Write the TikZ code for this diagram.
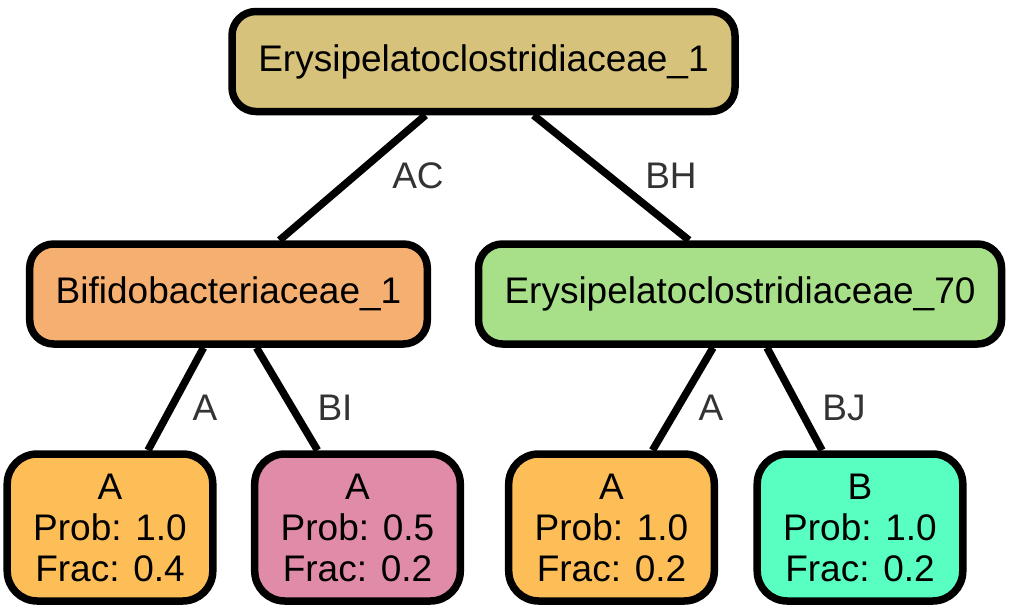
\documentclass[tikz,border=0pt]{standalone}
\usepackage{fontspec}
\setmainfont{Liberation Sans}
\definecolor{rootfill}{HTML}{D6C27A}
\definecolor{bifill}{HTML}{F5AF70}
\definecolor{eryfill}{HTML}{A8E08A}
\definecolor{afill}{HTML}{FEBE57}
\definecolor{pinkfill}{HTML}{E08BA8}
\definecolor{bfill}{HTML}{58FFC0}
\begin{document}
\begin{tikzpicture}[x=1pt,y=-1pt,
  box/.style={draw=black,line width=7.5pt,rounded corners=24pt,inner xsep=26pt,
    minimum height=100pt,font=\fontsize{37}{41}\selectfont},
  leaf/.style={box,rounded corners=30pt,minimum width=197pt,minimum height=147pt,align=center},
  edge/.style={line width=7.5pt},
  lbl/.style={text=black!80,font=\fontsize{37}{41}\selectfont}]
\useasboundingbox (0,0) rectangle (1014,613);
% family nodes
\node[box,fill=rootfill,minimum width=503pt] (root) at (483.5,61.5) {Erysipelatoclostridiaceae\_1};
\node[box,fill=bifill,minimum width=397pt] (bif) at (228.5,294) {Bifidobacteriaceae\_1};
\node[box,fill=eryfill,minimum width=521pt] (ery) at (740,294) {Erysipelatoclostridiaceae\_70};
% leaves
\node[leaf,fill=afill] (leafa) at (110,527.5) {A\\Prob: 1.0\\Frac: 0.4};
\node[leaf,fill=pinkfill] (leafb) at (357.5,527.5) {A\\Prob: 0.5\\Frac: 0.2};
\node[leaf,fill=afill] (leafc) at (611.5,527.5) {A\\Prob: 1.0\\Frac: 0.2};
\node[leaf,fill=bfill] (leafd) at (860,527.5) {B\\Prob: 1.0\\Frac: 0.2};
% edges
\draw[edge] ([xshift=-58pt]root.south) -- ([xshift=51pt]bif.north);
\draw[edge] ([xshift=50pt]root.south) -- ([xshift=-51pt]ery.north);
\draw[edge] ([xshift=-25pt]bif.south) -- ([xshift=38pt]leafa.north);
\draw[edge] ([xshift=28pt]bif.south) -- ([xshift=-40pt]leafb.north);
\draw[edge] ([xshift=-27pt]ery.south) -- ([xshift=41pt]leafc.north);
\draw[edge] ([xshift=27pt]ery.south) -- ([xshift=-38pt]leafd.north);
% edge labels
\node[lbl] (lac) at (418,176) {AC};
\node[lbl] (lbh) at (671,176) {BH};
\node[lbl] (la1) at (205,408) {A};
\node[lbl] (lbi) at (335,408) {BI};
\node[lbl] (la2) at (711,408) {A};
\node[lbl] (lbj) at (844,408) {BJ};
\end{tikzpicture}
\end{document}
